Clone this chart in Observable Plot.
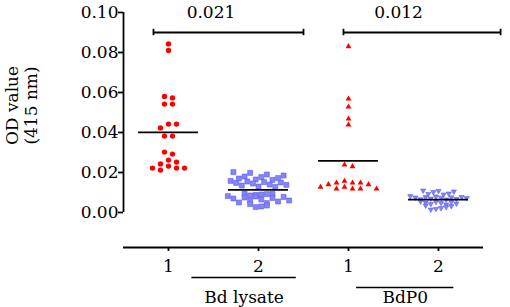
<!DOCTYPE html>
<html><head><meta charset="utf-8">
<script src="https://cdn.jsdelivr.net/npm/d3@7"></script>
<script src="https://cdn.jsdelivr.net/npm/@observablehq/plot@0.6"></script>
<style>
html,body{margin:0;padding:0;background:#fff}
</style>
</head><body><div id="chart"></div>
<script>
// ---- data ----
const groupPositions = [1, 2, 3, 4];
const xTickLabels = ["1", "2", "1", "2"];
const yTicks = [0, 0.02, 0.04, 0.06, 0.08, 0.10];
const yLabel = "OD value\n(415 nm)";

const lysate1 = [0.0843, 0.081, 0.058, 0.0573, 0.0542, 0.0542, 0.0442, 0.0442, 0.0423,
  0.0382, 0.0382, 0.0302, 0.0292, 0.0262, 0.0252, 0.0243, 0.0232, 0.0222, 0.0222, 0.0222, 0.0212];
const lysate2 = [0.0202, 0.0198, 0.0190, 0.0185, 0.0180, 0.0177, 0.0172, 0.0170, 0.0165, 0.0163,
  0.0158, 0.0155, 0.0152, 0.0150, 0.0148, 0.0145, 0.0140, 0.0138, 0.0135, 0.0130, 0.0128,
  0.0095, 0.0093, 0.0092, 0.0090, 0.0088, 0.0085, 0.0082, 0.0080, 0.0078, 0.0075, 0.0073,
  0.0070, 0.0065, 0.0060, 0.0058, 0.0055, 0.0050, 0.0047, 0.0042, 0.0035, 0.0030, 0.0027];
const p0_1 = [0.083, 0.0568, 0.0528, 0.0468, 0.0438, 0.0238, 0.023,
  0.0157, 0.0148, 0.0148, 0.0148, 0.014, 0.014, 0.0127, 0.0127, 0.0118, 0.0118, 0.0118, 0.0118];
const p0_2 = [0.011, 0.0108, 0.0105, 0.0102, 0.0095, 0.0093, 0.009, 0.0082, 0.008, 0.0078,
  0.0077, 0.0076, 0.0075, 0.0074, 0.0072, 0.007, 0.0068, 0.0066, 0.0065, 0.0055, 0.0053,
  0.0052, 0.005, 0.0048, 0.0045, 0.0043, 0.004, 0.0035, 0.0032, 0.0027, 0.0022, 0.0018, 0.0015];

const groupNames = ["Bd lysate", "BdP0"];
const groupSpans = [[1.26, 2.42], [3.09, 4.17]];
const pValueLabels = ["0.021", "0.012"];
const bracketSpans = [[0.833, 2.5], [2.944, 4.69]];
const pLabelX = [1.472, 3.556];
const bracketLevel = 0.09;

// ---- layout helpers ----
const yMin = -0.0175;
const triangleDown = {draw(ctx, size) {
  const y = -Math.sqrt(size / (Math.sqrt(3) * 3));
  ctx.moveTo(0, -y * 2); ctx.lineTo(-Math.sqrt(3) * y, y); ctx.lineTo(Math.sqrt(3) * y, y); ctx.closePath();
}};

// column scatter for sparse groups: slots per point, then centre each vertically-chained cluster
function swarm(values, gap) {
  const order = d3.range(values.length).sort((a, b) => values[b] - values[a]);
  const placed = [], slots = new Array(values.length);
  for (const i of order) {
    for (let k = 0; ; k++) {
      const s = k === 0 ? 0 : (k % 2 ? (k + 1) / 2 : -k / 2);
      if (!placed.some(p => p.slot === s && Math.abs(p.v - values[i]) < gap - 1e-9)) {
        placed.push({v: values[i], slot: s}); slots[i] = s; break;
      }
    }
  }
  let cluster = [];
  const flush = () => {
    if (!cluster.length) return;
    const ext = d3.extent(cluster, i => slots[i]);
    const sh = (ext[0] + ext[1]) / 2;
    cluster.forEach(i => slots[i] -= sh);
    cluster = [];
  };
  order.forEach((i, j) => {
    if (j > 0 && values[order[j - 1]] - values[i] >= gap - 1e-9) flush();
    cluster.push(i);
  });
  flush();
  return slots;
}

// banded scatter for dense groups: fixed-height bins, points spread side by side in each bin
function gcd(a, b) { return b ? gcd(b, a % b) : a; }
function banded(values, binH) {
  const top = d3.max(values);
  const bins = d3.group(d3.range(values.length), i => Math.floor((top - values[i]) / binH + 1e-9));
  const slots = new Array(values.length);
  for (const idx of bins.values()) {
    const n = idx.length;
    const sorted = idx.slice().sort((a, b) => values[b] - values[a]);
    const step = [3, 5, 7, 2].find(k => n === 1 || gcd(k, n) === 1) || 1;
    sorted.forEach((i, j) => { slots[i] = ((j * step) % n) - (n - 1) / 2; });
  }
  return slots;
}

const blueFill = "#8585fb", blueStroke = "#5b5bef";
const series = [
  {values: lysate1, pos: groupPositions[0], symbol: "circle", r: 2.7, fill: "#ff0000", stroke: "none", spacing: 0.089, layout: v => swarm(v, 0.003)},
  {values: lysate2, pos: groupPositions[1], symbol: "square", r: 2.8, fill: blueFill, stroke: blueStroke, spacing: 0.062, layout: v => banded(v, 0.004)},
  {values: p0_1, pos: groupPositions[2], symbol: "triangle", r: 2.2, fill: "#ff0000", stroke: "none", spacing: 0.089, layout: v => swarm(v, 0.0025)},
  {values: p0_2, pos: groupPositions[3], symbol: triangleDown, r: 1.9, fill: blueFill, stroke: blueStroke, spacing: 0.057, layout: v => banded(v, 0.0025)}
];

const dotMarks = series.map(s => {
  const slots = s.layout(s.values);
  const pts = s.values.map((v, i) => ({x: s.pos + slots[i] * s.spacing, y: v}));
  return Plot.dot(pts, {x: "x", y: "y", symbol: () => s.symbol, r: s.r, fill: s.fill,
    stroke: s.stroke, strokeWidth: 0.6});
});
const means = series.map(s => ({pos: s.pos, mean: d3.mean(s.values)}));

const font = "DejaVu Serif";
const fs = 17;
const chart = Plot.plot({
  width: 510, height: 307,
  marginLeft: 123, marginRight: 27, marginTop: 12, marginBottom: 60,
  x: {domain: [0.5, 4.5], axis: null},
  y: {domain: [yMin, 0.1], axis: null},
  symbol: {type: "identity"},
  style: {background: "white", overflow: "visible"},
  marks: [
    // y axis
    Plot.ruleX([0.5], {y1: 0, y2: 0.1, strokeWidth: 1.8}),
    Plot.axisY(yTicks, {tickSize: 5, tickPadding: 0, tickFormat: d3.format(".2f"), fontSize: fs, fontFamily: font,
      strokeWidth: 1.8, label: null}),
    // x axis
    Plot.ruleY([yMin], {x1: 0.5, x2: 4.5, strokeWidth: 1.8}),
    Plot.axisX(groupPositions, {tickSize: 4, tickPadding: 8, fontSize: fs, fontFamily: font, strokeWidth: 1.8, label: null,
      tickFormat: d => xTickLabels[groupPositions.indexOf(d)]}),
    // group underlines and names
    Plot.ruleY([groupSpans[0]], {y: () => yMin, x1: d => d[0], x2: d => d[1], dy: 30, strokeWidth: 1.6}),
    Plot.ruleY([groupSpans[1]], {y: () => yMin, x1: d => d[0], x2: d => d[1], dy: 40, strokeWidth: 1.6}),
    Plot.text(groupNames, {x: (d, i) => (groupSpans[i][0] + groupSpans[i][1]) / 2, y: () => yMin,
      text: d => d, lineAnchor: "bottom", dy: 55, fontSize: fs, fontFamily: font}),
    // y label
    Plot.text([yLabel], {frameAnchor: "left", textAnchor: "middle", text: d => d, rotate: -90, dx: -102.4, dy: -24.5,
      fontSize: fs, fontFamily: font, lineHeight: 20 / fs}),
    // data
    ...dotMarks,
    Plot.ruleY(means, {y: "mean", x1: d => d.pos - 0.333, x2: d => d.pos + 0.333, strokeWidth: 1.8}),
    // significance brackets
    Plot.ruleY(bracketSpans, {y: () => bracketLevel, x1: d => d[0], x2: d => d[1], strokeWidth: 1.8}),
    Plot.ruleX(bracketSpans.flat(), {x: d => d, y1: bracketLevel - 0.0016, y2: bracketLevel + 0.0016, strokeWidth: 1.8}),
    Plot.text(pValueLabels, {x: (d, i) => pLabelX[i], y: () => bracketLevel, text: d => d,
      lineAnchor: "bottom", dy: -15, fontSize: fs, fontFamily: font})
  ]
});
document.getElementById("chart").append(chart);
</script>
</body></html>
